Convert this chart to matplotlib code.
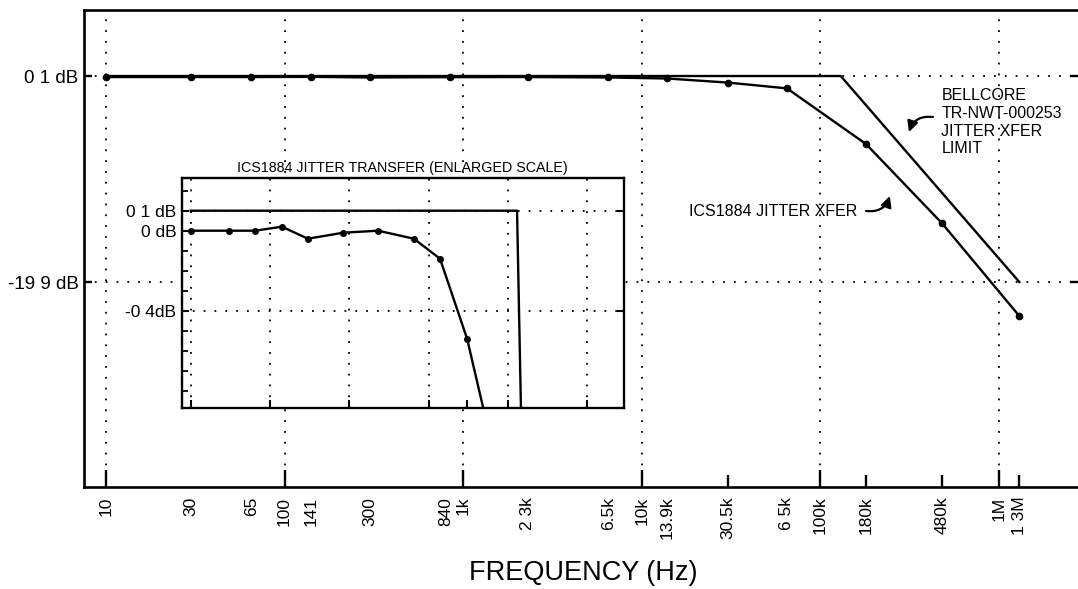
import numpy as np
import matplotlib
matplotlib.use("Agg")
import matplotlib.pyplot as plt
from matplotlib import font_manager
from matplotlib.transforms import ScaledTranslation
from matplotlib.ticker import FixedLocator, FixedFormatter, NullFormatter, NullLocator

# ---- data -------------------------------------------------------------
# Bellcore TR-NWT-000253 jitter transfer limit (corner points)
limit_freq = [10, 130e3, 1.3e6]
limit_db = [0.1, 0.1, -19.9]

# ICS1884 measured jitter transfer
ics_freq = [10, 30, 65, 141, 300, 840, 2.3e3, 6.5e3, 13.9e3, 30.5e3,
            65e3, 180e3, 480e3, 1.3e6]
ics_db = [0.0, 0.0, 0.0, 0.02, -0.04, -0.01, 0.0, -0.04, -0.14, -0.54,
          -1.1, -6.5, -14.2, -23.2]

# frequency axis labels
tick_freq = [10, 30, 65, 100, 141, 300, 840, 1e3, 2.3e3, 6.5e3, 10e3,
             13.9e3, 30.5e3, 65e3, 100e3, 180e3, 480e3, 1e6, 1.3e6]
tick_labels = ["10", "30", "65", "100", "141", "300", "840", "1k", "2 3k",
               "6.5k", "10k", "13.9k", "30.5k", "6 5k", "100k", "180k",
               "480k", "1M", "1 3M"]
long_tick_freq = [10, 100, 1e3, 10e3, 100e3, 1e6]
short_tick_freq = [30.5e3, 180e3, 480e3, 1.3e6]

ytick_db = [0.1, -19.9]
ytick_labels = ["0 1 dB", "-19 9 dB"]

grid_freq = [10, 100, 1e3, 10e3, 100e3, 1e6]
grid_db = [0.1, -19.9]

# enlarged-scale inset
inset_xticks = [10, 100, 1e3, 10e3, 30.5e3, 100e3, 1e6]
inset_ytick_db = [0.1, 0.0, -0.4]
inset_ytick_labels = ["0 1 dB", "0 dB", "-0 4dB"]
inset_minor_db = [0.2, 0.1, 0.0, -0.1, -0.2, -0.3, -0.4, -0.5, -0.6, -0.7, -0.8]
inset_grid_db = [0.1, -0.4]

# ---- figure -----------------------------------------------------------
plt.rcParams["font.family"] = ["Liberation Sans", "DejaVu Sans"]
W, H = 1078, 589
fig = plt.figure(figsize=(W / 100, H / 100), dpi=100)
fig.patch.set_facecolor("white")


def px_box(left, top, right, bottom):
    return [left / W, 1 - bottom / H, (right - left) / W, (bottom - top) / H]


DOT = (0, (1, 5))
LW = 1.7

ax = fig.add_axes(px_box(84, 10, 1078, 487))
ax.set_xscale("log")
ax.set_xlim(7.53, 2.77e6)
ax.set_ylim(-39.8, 6.51)

for f in grid_freq:
    ax.axvline(f, color="k", lw=1.3, ls=DOT, zorder=1)
for d in grid_db:
    ax.axhline(d, color="k", lw=1.3, ls=DOT, zorder=1)

ax.plot(limit_freq, limit_db, color="k", lw=LW, zorder=3)
ax.plot(ics_freq, ics_db, color="k", lw=LW, marker="o", ms=4.5, zorder=4)

for side in ("left", "bottom", "top"):
    ax.spines[side].set_linewidth(1.9)
ax.spines["right"].set_visible(False)

ax.xaxis.set_major_locator(FixedLocator(tick_freq))
ax.xaxis.set_major_formatter(FixedFormatter(tick_labels))
ax.xaxis.set_minor_locator(NullLocator())
ax.tick_params(axis="x", direction="in", length=12, width=1.7, pad=7,
               labelsize=12.5, labelrotation=90)

ax.yaxis.set_major_locator(FixedLocator(ytick_db))
ax.yaxis.set_major_formatter(FixedFormatter(ytick_labels))
ax.yaxis.set_minor_locator(NullLocator())
ax.tick_params(axis="y", direction="in", length=6, width=1.7, pad=4,
               labelsize=13.5, right=True)

# tick marks only at the decades and a few measurement points;
# nudge the crowded "840" label away from "1k"
for tick, f in zip(ax.xaxis.get_major_ticks(), tick_freq):
    if f in long_tick_freq:
        tick.tick1line.set_markersize(12)
    elif f in short_tick_freq:
        tick.tick1line.set_markersize(9)
    else:
        tick.tick1line.set_markersize(0)
    if f == 840:
        lab = tick.label1
        lab.set_transform(lab.get_transform()
                          + ScaledTranslation(-0.04, 0, fig.dpi_scale_trans))

# annotations
ax.text(476e3, -1.1, "BELLCORE\nTR-NWT-000253\nJITTER XFER\nLIMIT",
        ha="left", va="top", fontsize=11.5, linespacing=1.22)
arrow_style = dict(arrowstyle="-|>", connectionstyle="arc3,rad=0.4",
                   color="k", lw=1.6, mutation_scale=16, shrinkA=0, shrinkB=0)
ax.annotate("", xy=(313e3, -5.34), xytext=(427e3, -3.88),
            arrowprops=arrow_style)
ax.text(160e3, -13.1, "ICS1884 JITTER XFER", ha="right", va="center",
        fontsize=11.5)
ax.annotate("", xy=(245e3, -11.55), xytext=(180e3, -13.0),
            arrowprops=arrow_style)

# x-axis title
names = {f.name for f in font_manager.fontManager.ttflist}
if "Liberation Sans Narrow" in names:
    xl_family, xl_size = ["Liberation Sans Narrow", "DejaVu Sans"], 24
else:
    xl_family, xl_size = ["Liberation Sans", "DejaVu Sans"], 19.5
fig.text(583 / W, 1 - 573 / H, "FREQUENCY (Hz)", ha="center", va="center",
         fontsize=xl_size, family=xl_family)

# ---- inset ------------------------------------------------------------
ins = fig.add_axes(px_box(181.7, 178, 624, 408))
ins.set_facecolor("white")
ins.set_xscale("log")
ins.set_xlim(7.70, 2.9e6)
ins.set_ylim(-0.8865, 0.2635)

for f in grid_freq:
    ins.axvline(f, color="k", lw=1.3, ls=DOT, zorder=1)
for d in inset_grid_db:
    ins.axhline(d, color="k", lw=1.3, ls=DOT, zorder=1)

ins.plot(limit_freq, limit_db, color="k", lw=LW, zorder=3)
ins.plot(ics_freq, ics_db, color="k", lw=LW, marker="o", ms=4, zorder=4)

for s in ins.spines.values():
    s.set_linewidth(1.7)

ins.xaxis.set_major_locator(FixedLocator(inset_xticks))
ins.xaxis.set_major_formatter(NullFormatter())
ins.xaxis.set_minor_locator(NullLocator())
ins.tick_params(axis="x", direction="in", length=6, width=1.5)

ins.yaxis.set_major_locator(FixedLocator(inset_ytick_db))
ins.yaxis.set_major_formatter(FixedFormatter(inset_ytick_labels))
ins.yaxis.set_minor_locator(FixedLocator(inset_minor_db))
ins.tick_params(axis="y", which="major", direction="in", length=5, width=1.5,
                pad=4, labelsize=12.5, right=True)
ins.tick_params(axis="y", which="minor", direction="in", length=4, width=1.3)
for tick, d in zip(ins.yaxis.get_major_ticks(), inset_ytick_db):
    if d == 0.0:
        tick.tick2line.set_visible(False)

ins.set_title("ICS1884 JITTER TRANSFER (ENLARGED SCALE)", fontsize=10.3, pad=4)

fig.savefig("out.png", dpi=100, facecolor="white")
